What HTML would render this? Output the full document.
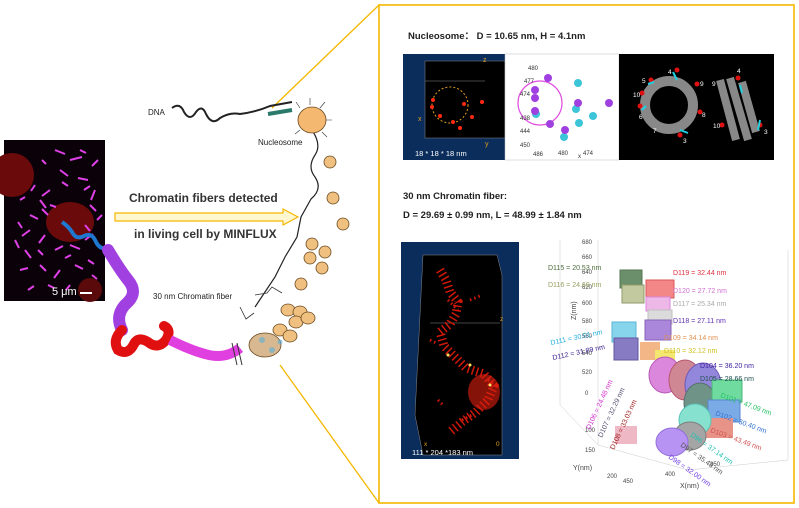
<!DOCTYPE html>
<html><head><meta charset="utf-8"><style>
html,body{margin:0;padding:0;background:#fff;}
svg{display:block;font-family:"Liberation Sans",sans-serif;}
</style></head><body>
<svg width="799" height="508" viewBox="0 0 799 508" xmlns="http://www.w3.org/2000/svg">
<rect width="799" height="508" fill="#fff"/>
<line x1="379" y1="5" x2="272" y2="108" stroke="#f5b700" stroke-width="1.3"/>
<line x1="379" y1="503" x2="280" y2="365" stroke="#f5b700" stroke-width="1.3"/>
<rect x="379" y="5" width="415" height="498" fill="none" stroke="#f5b700" stroke-width="1.6"/>

<!-- left cell image -->
<rect x="4" y="140" width="101" height="161" fill="#0a0208"/>
<circle cx="12" cy="175" r="22" fill="#6a0a0a"/>
<ellipse cx="70" cy="222" rx="24" ry="20" fill="#6a0a0a"/>
<circle cx="90" cy="290" r="12" fill="#5a0a0a"/>
<g stroke="#e040e8" stroke-width="2" fill="none">
<path d="M55 150 l10 4 M70 160 l12 -3 M60 170 l8 6 M78 178 l10 2 M50 190 l-8 6 M40 200 l6 8 M30 215 l8 4 M45 235 l-6 8 M55 250 l8 -4 M70 245 l10 4 M85 240 l8 -6 M90 205 l6 6 M95 190 l-4 10 M25 250 l6 8 M20 270 l8 -2 M40 265 l6 6 M60 270 l-6 8 M75 265 l8 4 M30 230 l-8 6 M48 215 l-6 -6 M88 260 l6 4 M15 240 l4 8 M98 160 l-6 6 M62 182 l6 4 M84 190 l6 -4 M35 185 l-4 6 M50 205 l6 2 M38 250 l5 5 M65 258 l6 -3 M85 225 l5 6 M28 290 l6 -4 M48 285 l6 3 M70 285 l-4 5 M92 275 l5 4 M20 200 l5 -3 M18 222 l4 6 M102 215 l-5 5 M80 150 l6 3 M42 160 l4 4"/>
</g>
<path d="M62 222 q6 4 10 10 q4 8 12 4 q8 -4 12 6 q4 8 12 6" stroke="#1e78d0" stroke-width="4" fill="none"/>
<text x="52" y="295" font-size="11" fill="#fff">5 μm</text>
<rect x="80" y="292" width="12" height="2" fill="#fff"/>

<!-- chromatin chain -->
<path d="M108 250 q12 20 20 30 q10 12 0 22 q-14 12 -6 28" stroke="#a040e0" stroke-width="12" fill="none" stroke-linecap="round"/>
<path d="M122 330 q-10 10 -4 20 q10 6 16 -6 q4 -8 14 -2 q10 8 18 -2 q6 -10 -2 -14" stroke="#e01010" stroke-width="10" fill="none" stroke-linecap="round"/>
<path d="M170 340 q20 10 35 14 q20 6 35 -6" stroke="#e040e0" stroke-width="10" fill="none"/>
<line x1="232" y1="343" x2="237" y2="365" stroke="#333" stroke-width="1"/>
<line x1="237" y1="343" x2="242" y2="365" stroke="#333" stroke-width="1"/>
<path d="M312 130 q10 15 3 25 q-8 12 0 22 q8 12 -4 22 l-10 18 l-4 20 l-12 20 l-10 20 l-20 30" stroke="#222" stroke-width="1.2" fill="none"/>
<g fill="#f0c080" stroke="#6a4a20" stroke-width=".8">
<ellipse cx="265" cy="345" rx="16" ry="12" fill="#d8b890"/>
<ellipse cx="280" cy="330" rx="7" ry="6"/><ellipse cx="290" cy="336" rx="7" ry="6"/>
<ellipse cx="288" cy="310" rx="7" ry="6"/><ellipse cx="300" cy="312" rx="7" ry="6"/><ellipse cx="296" cy="322" rx="7" ry="6"/><ellipse cx="308" cy="318" rx="7" ry="6"/>
<ellipse cx="301" cy="284" rx="6" ry="6"/>
<ellipse cx="322" cy="268" rx="6" ry="6"/>
<ellipse cx="310" cy="258" rx="6" ry="6"/>
<ellipse cx="325" cy="252" rx="6" ry="6"/>
<ellipse cx="312" cy="244" rx="6" ry="6"/>
<ellipse cx="343" cy="224" rx="6" ry="6"/>
<ellipse cx="333" cy="198" rx="6" ry="6"/>
<ellipse cx="330" cy="162" rx="6" ry="6"/>
<ellipse cx="312" cy="120" rx="14" ry="13" fill="#f4b870"/>
</g>
<g stroke="#333" stroke-width=".6">
<path d="M300 108 l-4 -6 M310 105 l0 -7 M320 108 l5 -6 M326 120 l6 0 M322 132 l5 5 M300 130 l-5 4"/>
</g>
<g fill="#5ab0d8" opacity=".6"><circle cx="262" cy="340" r="3"/><circle cx="272" cy="350" r="3"/><circle cx="280" cy="342" r="2.5"/></g>
<path d="M172 108 q8 -6 12 4 q6 10 12 0 q6 -8 10 2 q6 12 14 4 q10 -6 20 -4 q16 -2 30 -8 l22 -4" stroke="#222" stroke-width="2" fill="none"/>
<path d="M268 114 l24 -4" stroke="#2a7a6a" stroke-width="4"/>
<text x="148" y="115" font-size="8" fill="#222">DNA</text>
<text x="258" y="145" font-size="8" fill="#222">Nucleosome</text>
<text x="153" y="299" font-size="8" fill="#222">30 nm Chromatin fiber</text>
<path d="M255 295 l12 -2 l5 -6 l10 6 M240 307 l6 12 l8 -6" stroke="#333" fill="none" stroke-width=".8"/>

<!-- arrow -->
<path d="M115 213 h168 v-4 l15 8 l-15 8 v-4 h-168 z" fill="#fff7d0" stroke="#f5b700" stroke-width="1.2"/>
<text x="129" y="202" font-size="12" font-weight="bold" fill="#333">Chromatin fibers detected</text>
<text x="134" y="238" font-size="12" font-weight="bold" fill="#333">in living cell by MINFLUX</text>

<!-- right panel top -->
<text x="408" y="39" font-size="9.5" font-weight="bold" fill="#222">Nucleosome：  D = 10.65 nm, H = 4.1nm</text>
<rect x="403" y="54" width="102" height="106" fill="#0b2d5c"/>
<rect x="425" y="61" width="80" height="77" fill="#000" stroke="#888" stroke-width=".5"/>
<line x1="425" y1="81" x2="485" y2="81" stroke="#888" stroke-width=".5"/>
<circle cx="450" cy="105" r="18" fill="none" stroke="#e0a020" stroke-dasharray="2,2"/>
<g fill="#ff2a10"><circle cx="433" cy="100" r="2"/><circle cx="432" cy="107" r="2"/><circle cx="440" cy="116" r="2"/><circle cx="453" cy="122" r="2"/><circle cx="460" cy="128" r="2"/><circle cx="472" cy="117" r="2"/><circle cx="482" cy="102" r="2"/><circle cx="464" cy="104" r="2"/></g>
<text x="483" y="62" font-size="7" fill="#e0a020">z</text><text x="418" y="121" font-size="7" fill="#e0a020">x</text><text x="485" y="146" font-size="7" fill="#e0a020">y</text>
<text x="415" y="156" font-size="7.5" fill="#fff">18 * 18 * 18 nm</text>
<rect x="505" y="54" width="114" height="106" fill="#fff" stroke="#bbb" stroke-width=".5"/>
<circle cx="540" cy="103" r="22" fill="none" stroke="#e050e0" stroke-width="1.2"/>
<g fill="#3cc4d8"><circle cx="578" cy="83" r="4"/><circle cx="576" cy="109" r="4"/><circle cx="579" cy="123" r="4"/><circle cx="593" cy="116" r="4"/><circle cx="564" cy="137" r="4"/><circle cx="536" cy="114" r="4"/></g>
<g fill="#a040e0"><circle cx="548" cy="78" r="4"/><circle cx="535" cy="90" r="4"/><circle cx="535" cy="98" r="4"/><circle cx="535" cy="111" r="4"/><circle cx="550" cy="124" r="4"/><circle cx="565" cy="130" r="4"/><circle cx="609" cy="103" r="4"/><circle cx="578" cy="103" r="4"/></g>
<g font-size="6" fill="#333"><text x="528" y="70">480</text><text x="524" y="83">477</text><text x="520" y="96">474</text><text x="520" y="120">438</text><text x="520" y="133">444</text><text x="520" y="147">450</text><text x="533" y="156">486</text><text x="558" y="155">480</text><text x="583" y="155">474</text><text x="578" y="158">x</text></g>
<rect x="619" y="54" width="155" height="106" fill="#000"/>
<circle cx="669" cy="105" r="24" fill="none" stroke="#888" stroke-width="10"/>
<path d="M720 80 l16 60 M730 78 l18 62 M742 82 l14 50" stroke="#888" stroke-width="8"/>
<g fill="#e01010"><circle cx="677" cy="70" r="2.5"/><circle cx="651" cy="80" r="2.5"/><circle cx="642" cy="93" r="2.5"/><circle cx="640" cy="106" r="2.5"/><circle cx="697" cy="84" r="2.5"/><circle cx="700" cy="112" r="2.5"/><circle cx="680" cy="135" r="2.5"/><circle cx="738" cy="78" r="2.5"/><circle cx="722" cy="125" r="2.5"/><circle cx="760" cy="125" r="2.5"/></g>
<g stroke="#20d0e0" stroke-width="2"><path d="M673 72 l4 8 M648 84 l6 -2 M642 110 l4 -4 M680 130 l8 3 M740 85 l2 8 M760 120 l-2 10"/></g>
<g font-size="6.5" fill="#fff"><text x="668" y="74">4</text><text x="642" y="83">5</text><text x="633" y="97">10</text><text x="639" y="119">6</text><text x="653" y="133">7</text><text x="683" y="143">3</text><text x="700" y="86">9</text><text x="702" y="117">8</text><text x="712" y="86">9</text><text x="737" y="73">4</text><text x="713" y="128">10</text><text x="764" y="134">3</text></g>

<text x="403" y="199" font-size="9.5" font-weight="bold" fill="#222">30 nm Chromatin fiber:</text>
<text x="403" y="218" font-size="9.5" font-weight="bold" fill="#222">D = 29.69 ± 0.99 nm, L = 48.99 ± 1.84 nm</text>

<!-- blue fiber box -->
<rect x="401" y="242" width="118" height="217" fill="#0b2d5c"/>
<path d="M423 255 h74 l5 20 v180 h-79 l-8 -40 z" fill="#000" stroke="#888" stroke-width=".5"/>
<line x1="430" y1="323" x2="500" y2="323" stroke="#888" stroke-width=".6"/>
<g fill="#e02010">
<path d="M440 270 l6 10 l4 12 l8 10 l-2 12 l-6 10 l-10 8 l4 14 l10 10 l12 12 l18 6 l10 12 l-6 14 l-12 12 l-14 10 l-12 10" stroke="#d01808" stroke-width="9" fill="none" stroke-dasharray="1.5,3"/>
<path d="M448 300 l10 10 M470 300 l10 -4 M430 340 l8 4 M488 380 l8 6 M462 420 l12 -6 M438 400 l6 6" stroke="#d01808" stroke-width="3" stroke-dasharray="1.5,3"/>
<ellipse cx="484" cy="392" rx="16" ry="18" opacity=".6"/>
<circle cx="490" cy="385" r="1.5" fill="#ffe060"/><circle cx="470" cy="365" r="1.5" fill="#ffe060"/><circle cx="448" cy="355" r="1.5" fill="#ffe060"/>
</g>
<text x="424" y="446" font-size="6.5" fill="#e0a020">x</text><text x="496" y="446" font-size="6.5" fill="#e0a020">0</text><text x="500" y="321" font-size="6.5" fill="#e0a020">z</text>
<text x="412" y="455" font-size="7.5" fill="#fff">111 * 204 *183 nm</text>

<!-- 3D plot -->
<g stroke="#ccc" stroke-width=".5" fill="none">
<path d="M598 240 v205 l90 25 l100 -10 v-210"/><path d="M598 445 l-38 -40 v-165"/>
</g>
<g font-size="6" fill="#444"><text x="582" y="244">680</text><text x="582" y="259">660</text><text x="582" y="274">640</text><text x="582" y="289">620</text><text x="582" y="305">600</text><text x="582" y="323">580</text><text x="582" y="338">560</text><text x="582" y="355">540</text><text x="582" y="374">520</text><text x="585" y="395">0</text><text x="585" y="432">100</text><text x="585" y="452">150</text><text x="607" y="478">200</text><text x="623" y="483">450</text><text x="665" y="476">400</text><text x="710" y="466">350</text>
<text x="573" y="470" font-size="7">Y(nm)</text><text x="680" y="488" font-size="7">X(nm)</text><text x="576" y="320" font-size="7" transform="rotate(-90 576 320)">Z(nm)</text></g>
<g stroke-width="1" opacity=".75">
<rect x="620" y="270" width="22" height="18" fill="#3a6a3a" stroke="#1a4a1a"/>
<rect x="622" y="285" width="22" height="18" fill="#b0b880" stroke="#6a7a3a"/>
<rect x="646" y="280" width="28" height="18" fill="#f06060" stroke="#d02020"/>
<rect x="646" y="297" width="24" height="14" fill="#e8a0e0" stroke="#d060d0"/>
<rect x="648" y="310" width="24" height="14" fill="#d0d0d0" stroke="#aaa"/>
<rect x="645" y="320" width="26" height="20" fill="#9060d0" stroke="#6030a0"/>
<rect x="612" y="322" width="24" height="20" fill="#60c8e8" stroke="#20a0c8"/>
<rect x="614" y="338" width="24" height="22" fill="#6050b0" stroke="#302080"/>
<rect x="640" y="342" width="20" height="18" fill="#f0a060"/>
<rect x="655" y="350" width="20" height="20" fill="#f0e040"/>
<ellipse cx="665" cy="375" rx="16" ry="18" fill="#d060d0" stroke="#a020a0"/>
<ellipse cx="685" cy="380" rx="16" ry="20" fill="#c06070" stroke="#a02040"/>
<ellipse cx="703" cy="385" rx="18" ry="22" fill="#7060d0" stroke="#4020a0"/>
<ellipse cx="700" cy="403" rx="16" ry="20" fill="#407060" stroke="#204040"/>
<rect x="712" y="380" width="30" height="22" fill="#40d080" stroke="#10a050"/>
<rect x="708" y="400" width="32" height="22" fill="#5090e0" stroke="#2060c0"/>
<rect x="705" y="418" width="28" height="20" fill="#e07060"/>
<ellipse cx="695" cy="420" rx="16" ry="16" fill="#60d8c0" stroke="#20b0a0"/>
<ellipse cx="690" cy="436" rx="16" ry="14" fill="#888" stroke="#555"/>
<ellipse cx="672" cy="442" rx="16" ry="14" fill="#a070f0" stroke="#7040d0"/>
<rect x="615" y="426" width="22" height="18" fill="#e8a0b0"/>
</g>
<g font-size="7">
<text x="548" y="270" fill="#4a6a3a">D115 = 20.53 nm</text>
<text x="548" y="287" fill="#9aa060">D116 = 24.69 nm</text>
<text x="673" y="275" fill="#e03040">D119 = 32.44 nm</text>
<text x="673" y="293" fill="#d070d0">D120 = 27.72 nm</text>
<text x="673" y="306" fill="#aaa">D117 = 25.34 nm</text>
<text x="673" y="323" fill="#6030b0">D118 = 27.11 nm</text>
<text x="664" y="340" fill="#e09050">D109 = 34.14 nm</text>
<text x="664" y="353" fill="#d0c020">D110 = 32.12 nm</text>
<text x="551" y="345" fill="#20b0d8" transform="rotate(-12 551 345)">D111 = 30.01 nm</text>
<text x="553" y="360" fill="#3a2090" transform="rotate(-12 553 360)">D112 = 31.89 nm</text>
<text x="700" y="368" fill="#4020a0">D104 = 36.20 nm</text>
<text x="700" y="381" fill="#205050">D105 = 28.66 nm</text>
<text x="720" y="397" fill="#20c060" transform="rotate(20 720 397)">D101 = 47.09 nm</text>
<text x="715" y="415" fill="#3070d0" transform="rotate(20 715 415)">D102 = 50.40 nm</text>
<text x="710" y="432" fill="#d05050" transform="rotate(20 710 432)">D103 = 43.49 nm</text>
<text x="690" y="436" fill="#20c0b0" transform="rotate(35 690 436)">D96 = 37.14 nm</text>
<text x="680" y="446" fill="#555" transform="rotate(35 680 446)">D97 = 35.48 nm</text>
<text x="668" y="458" fill="#7040e0" transform="rotate(35 668 458)">D98 = 32.00 nm</text>
<text x="590" y="430" fill="#d030d0" transform="rotate(-65 590 430)">D106 = 24.48 nm</text>
<text x="602" y="438" fill="#555070" transform="rotate(-65 602 438)">D107 = 32.29 nm</text>
<text x="614" y="450" fill="#a02020" transform="rotate(-65 614 450)">D108 = 33.03 nm</text>
</g>
</svg>
</body></html>
